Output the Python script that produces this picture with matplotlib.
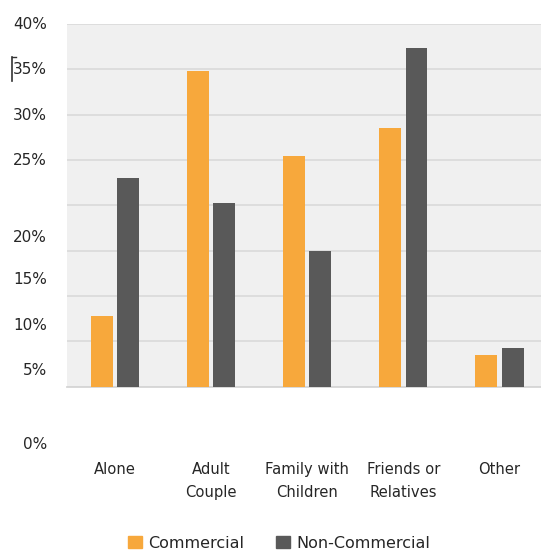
import matplotlib
matplotlib.use("Agg")
import matplotlib.pyplot as plt
import numpy as np
from matplotlib.patches import Patch
from matplotlib.lines import Line2D

categories = ["Alone", "Adult\nCouple", "Family with\nChildren", "Friends or\nRelatives", "Other"]
commercial = [7.8, 34.8, 25.4, 28.5, 3.5]
non_commercial = [23.0, 20.3, 15.0, 37.3, 4.3]
series_names = ["Commercial", "Non-Commercial"]
tick_labels = ["40%", "35%", "30%", "25%", "20%", "15%", "10%", "5%", "0%"]
# where the (misplaced) tick labels sit, in data units
tick_label_pos = [39.9, 35.0, 29.9, 25.0, 16.5, 11.8, 6.8, 1.8, -6.4]

W, H = 541, 552
fig = plt.figure(figsize=(W / 100, H / 100), dpi=100)
fig.patch.set_facecolor("white")

left, right, top, bottom = 67, 547.5, 24, 386.7
ax = fig.add_axes([left / W, 1 - bottom / H, (right - left) / W, (bottom - top) / H])
ax.set_facecolor("#f0f0f0")

x = np.arange(len(categories))
bw = 0.228
off = 0.137
ax.bar(x - off, commercial, bw, color="#f7a83c", zorder=3)
ax.bar(x + off, non_commercial, bw, color="#595959", zorder=3)

ax.set_xlim(-0.5, len(categories) - 0.5)
ax.set_ylim(0, 40)
ax.set_yticks(np.arange(0, 41, 5))
ax.yaxis.grid(True, color="#dadada", linewidth=1.2, zorder=0)
ax.set_yticklabels([])
ax.tick_params(axis="both", length=0)
ax.set_xticks(x)
ax.set_xticklabels([])
for s in ["left", "right", "top"]:
    ax.spines[s].set_visible(False)
ax.spines["bottom"].set_color("#d6d6d6")
ax.spines["bottom"].set_linewidth(1.3)

font = "DejaVu Sans"
# y labels
for lab, pos in zip(tick_labels, tick_label_pos):
    ax.text(-20 / (right - left), pos, lab, transform=ax.get_yaxis_transform(),
            ha="right", va="center", fontsize=11, color="#262626", family=font,
            clip_on=False)

# category labels
for xi, c in zip(x, categories):
    ax.text(xi, -8.3, c, ha="center", va="top", fontsize=10.6, color="#262626",
            family=font, linespacing=1.65, clip_on=False)

# cursor artifact near 35%
fig.add_artist(Line2D([12 / W, 12 / W], [1 - 57 / H, 1 - 81 / H], color="#333333", lw=1.2))
fig.add_artist(Line2D([12 / W, 16 / W], [1 - 57 / H, 1 - 57 / H], color="#333333", lw=1.0))

handles = [Patch(color="#f7a83c"), Patch(color="#595959")]
leg = fig.legend(handles, series_names, loc="center", bbox_to_anchor=(279 / W, 1 - 543 / H),
                 ncol=2, frameon=False, fontsize=11.5, handlelength=0.85, handleheight=0.85,
                 handletextpad=0.4, columnspacing=2.0)
for t in leg.get_texts():
    t.set_color("#262626")

fig.savefig("out.png", dpi=100)
